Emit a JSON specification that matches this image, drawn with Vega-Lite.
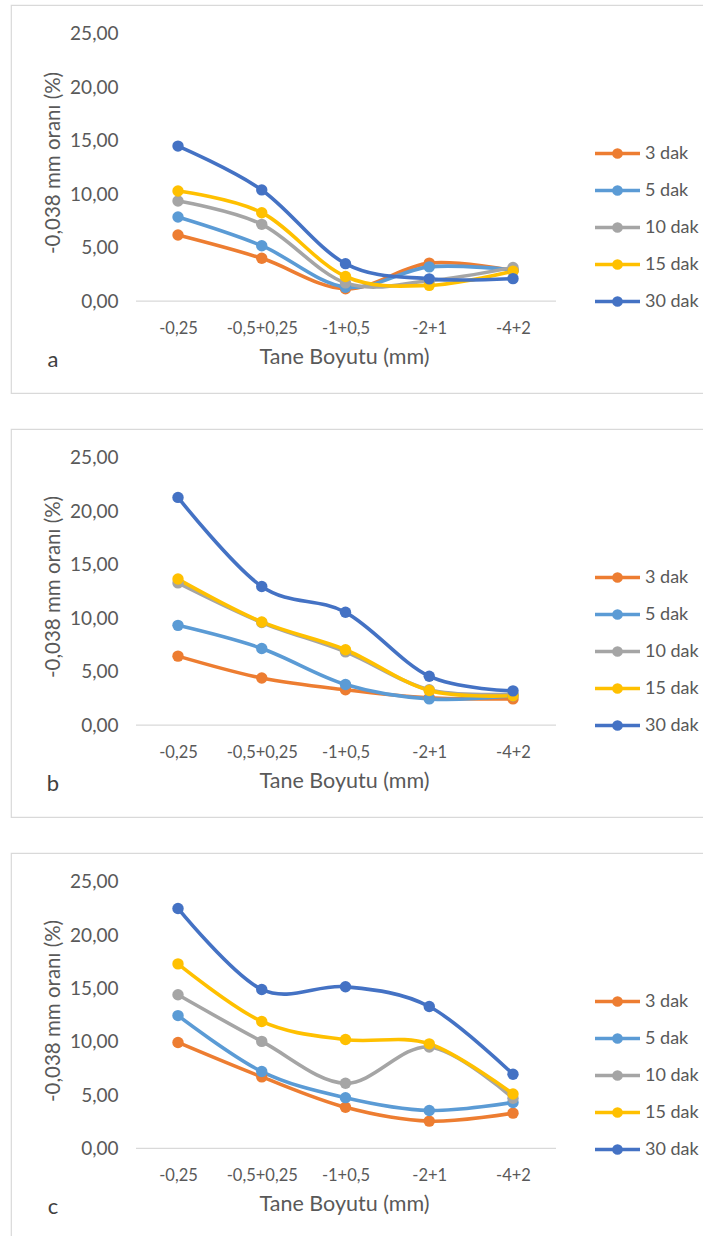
{
  "$schema": "https://vega.github.io/schema/vega-lite/v6.json",
  "padding": {"left": 10, "top": 4, "right": 0, "bottom": 0},
  "autosize": {"type": "pad"},
  "background": "white",
  "data": {"values": [
    {"panel": "a", "series": "3 dak", "size": "-0,25", "value": 6.18},
    {"panel": "a", "series": "3 dak", "size": "-0,5+0,25", "value": 4.0},
    {"panel": "a", "series": "3 dak", "size": "-1+0,5", "value": 1.15},
    {"panel": "a", "series": "3 dak", "size": "-2+1", "value": 3.55},
    {"panel": "a", "series": "3 dak", "size": "-4+2", "value": 2.85},
    {"panel": "a", "series": "5 dak", "size": "-0,25", "value": 7.87},
    {"panel": "a", "series": "5 dak", "size": "-0,5+0,25", "value": 5.18},
    {"panel": "a", "series": "5 dak", "size": "-1+0,5", "value": 1.3},
    {"panel": "a", "series": "5 dak", "size": "-2+1", "value": 3.2},
    {"panel": "a", "series": "5 dak", "size": "-4+2", "value": 2.9},
    {"panel": "a", "series": "10 dak", "size": "-0,25", "value": 9.36},
    {"panel": "a", "series": "10 dak", "size": "-0,5+0,25", "value": 7.18},
    {"panel": "a", "series": "10 dak", "size": "-1+0,5", "value": 1.7},
    {"panel": "a", "series": "10 dak", "size": "-2+1", "value": 1.9},
    {"panel": "a", "series": "10 dak", "size": "-4+2", "value": 3.15},
    {"panel": "a", "series": "15 dak", "size": "-0,25", "value": 10.3},
    {"panel": "a", "series": "15 dak", "size": "-0,5+0,25", "value": 8.27},
    {"panel": "a", "series": "15 dak", "size": "-1+0,5", "value": 2.3},
    {"panel": "a", "series": "15 dak", "size": "-2+1", "value": 1.47},
    {"panel": "a", "series": "15 dak", "size": "-4+2", "value": 2.8},
    {"panel": "a", "series": "30 dak", "size": "-0,25", "value": 14.5},
    {"panel": "a", "series": "30 dak", "size": "-0,5+0,25", "value": 10.4},
    {"panel": "a", "series": "30 dak", "size": "-1+0,5", "value": 3.5},
    {"panel": "a", "series": "30 dak", "size": "-2+1", "value": 2.08},
    {"panel": "a", "series": "30 dak", "size": "-4+2", "value": 2.1},

    {"panel": "b", "series": "3 dak", "size": "-0,25", "value": 6.45},
    {"panel": "b", "series": "3 dak", "size": "-0,5+0,25", "value": 4.4},
    {"panel": "b", "series": "3 dak", "size": "-1+0,5", "value": 3.3},
    {"panel": "b", "series": "3 dak", "size": "-2+1", "value": 2.55},
    {"panel": "b", "series": "3 dak", "size": "-4+2", "value": 2.45},
    {"panel": "b", "series": "5 dak", "size": "-0,25", "value": 9.33},
    {"panel": "b", "series": "5 dak", "size": "-0,5+0,25", "value": 7.17},
    {"panel": "b", "series": "5 dak", "size": "-1+0,5", "value": 3.8},
    {"panel": "b", "series": "5 dak", "size": "-2+1", "value": 2.45},
    {"panel": "b", "series": "5 dak", "size": "-4+2", "value": 2.75},
    {"panel": "b", "series": "10 dak", "size": "-0,25", "value": 13.3},
    {"panel": "b", "series": "10 dak", "size": "-0,5+0,25", "value": 9.6},
    {"panel": "b", "series": "10 dak", "size": "-1+0,5", "value": 6.85},
    {"panel": "b", "series": "10 dak", "size": "-2+1", "value": 3.3},
    {"panel": "b", "series": "10 dak", "size": "-4+2", "value": 2.9},
    {"panel": "b", "series": "15 dak", "size": "-0,25", "value": 13.66},
    {"panel": "b", "series": "15 dak", "size": "-0,5+0,25", "value": 9.65},
    {"panel": "b", "series": "15 dak", "size": "-1+0,5", "value": 7.05},
    {"panel": "b", "series": "15 dak", "size": "-2+1", "value": 3.23},
    {"panel": "b", "series": "15 dak", "size": "-4+2", "value": 2.75},
    {"panel": "b", "series": "30 dak", "size": "-0,25", "value": 21.3},
    {"panel": "b", "series": "30 dak", "size": "-0,5+0,25", "value": 12.97},
    {"panel": "b", "series": "30 dak", "size": "-1+0,5", "value": 10.55},
    {"panel": "b", "series": "30 dak", "size": "-2+1", "value": 4.57},
    {"panel": "b", "series": "30 dak", "size": "-4+2", "value": 3.2},

    {"panel": "c", "series": "3 dak", "size": "-0,25", "value": 9.93},
    {"panel": "c", "series": "3 dak", "size": "-0,5+0,25", "value": 6.7},
    {"panel": "c", "series": "3 dak", "size": "-1+0,5", "value": 3.85},
    {"panel": "c", "series": "3 dak", "size": "-2+1", "value": 2.55},
    {"panel": "c", "series": "3 dak", "size": "-4+2", "value": 3.3},
    {"panel": "c", "series": "5 dak", "size": "-0,25", "value": 12.45},
    {"panel": "c", "series": "5 dak", "size": "-0,5+0,25", "value": 7.2},
    {"panel": "c", "series": "5 dak", "size": "-1+0,5", "value": 4.75},
    {"panel": "c", "series": "5 dak", "size": "-2+1", "value": 3.55},
    {"panel": "c", "series": "5 dak", "size": "-4+2", "value": 4.3},
    {"panel": "c", "series": "10 dak", "size": "-0,25", "value": 14.4},
    {"panel": "c", "series": "10 dak", "size": "-0,5+0,25", "value": 10.03},
    {"panel": "c", "series": "10 dak", "size": "-1+0,5", "value": 6.1},
    {"panel": "c", "series": "10 dak", "size": "-2+1", "value": 9.5},
    {"panel": "c", "series": "10 dak", "size": "-4+2", "value": 4.7},
    {"panel": "c", "series": "15 dak", "size": "-0,25", "value": 17.3},
    {"panel": "c", "series": "15 dak", "size": "-0,5+0,25", "value": 11.9},
    {"panel": "c", "series": "15 dak", "size": "-1+0,5", "value": 10.2},
    {"panel": "c", "series": "15 dak", "size": "-2+1", "value": 9.8},
    {"panel": "c", "series": "15 dak", "size": "-4+2", "value": 5.1},
    {"panel": "c", "series": "30 dak", "size": "-0,25", "value": 22.5},
    {"panel": "c", "series": "30 dak", "size": "-0,5+0,25", "value": 14.9},
    {"panel": "c", "series": "30 dak", "size": "-1+0,5", "value": 15.15},
    {"panel": "c", "series": "30 dak", "size": "-2+1", "value": 13.3},
    {"panel": "c", "series": "30 dak", "size": "-4+2", "value": 6.95}
  ]},
  "spacing": 34,
  "resolve": {"scale": {"color": "independent"}, "legend": {"color": "independent"}},
  "vconcat": [
    {
      "width": 700, "height": 388,
      "transform": [{"filter": "datum.panel === 'a'"}],
      "layer": [
        {"data": {"values": [{"k": 1}]}, "mark": {"type": "rule", "color": "#d9d9d9", "strokeWidth": 1.3, "xOffset": -42, "x2Offset": 43},
         "encoding": {"x": {"datum": "-0,25", "type": "ordinal", "scale": {"type": "point", "domain": ["-0,25", "-0,5+0,25", "-1+0,5", "-2+1", "-4+2"], "range": [167, 502], "padding": 0}}, "x2": {"datum": "-4+2"}, "y": {"datum": 0, "type": "quantitative"}}},
        {"data": {"values": [{"letter": "a"}]}, "mark": {"type": "text", "dx": -125, "fontSize": 22, "color": "#404040", "baseline": "middle", "align": "center"},
         "encoding": {"x": {"datum": "-0,25", "type": "ordinal"}, "y": {"datum": -5.5, "type": "quantitative"}, "text": {"field": "letter"}}},
        {"mark": {"type": "line", "interpolate": "cardinal", "strokeWidth": 3.6},
         "encoding": {
           "x": {"field": "size", "type": "ordinal", "scale": {"type": "point", "domain": ["-0,25", "-0,5+0,25", "-1+0,5", "-2+1", "-4+2"], "range": [167, 502], "padding": 0},
                 "axis": {"offset": -92, "labelPadding": 27, "labelFontSize": 16.5, "labelAngle": 0, "labelAlign": "center", "title": "Tane Boyutu (mm)", "titleFontSize": 21.5, "titleX": 333, "titlePadding": 10}},
           "y": {"field": "value", "type": "quantitative", "scale": {"domain": [-8.6, 27.7], "nice": false, "zero": false},
                 "axis": {"values": [0, 5, 10, 15, 20, 25], "labelExpr": "replace(format(datum.value, '.2f'), '.', ',')", "offset": -125, "labelPadding": 18, "labelFontSize": 19, "title": "-0,038 mm oranı (%)", "titleFontSize": 20.5, "titleY": 157.5, "titlePadding": 6}},
           "color": {"field": "series", "type": "nominal", "scale": {"domain": ["3 dak", "5 dak", "10 dak", "15 dak", "30 dak"], "range": ["#ED7D31", "#5B9BD5", "#A5A5A5", "#FFC000", "#4472C4"]},
                     "legend": {"orient": "none", "legendX": 582, "legendY": 124}}
         }},
        {"mark": {"type": "point", "filled": true, "size": 130, "opacity": 1},
         "encoding": {
           "x": {"field": "size", "type": "ordinal"},
           "y": {"field": "value", "type": "quantitative"},
           "color": {"field": "series", "type": "nominal"}
         }}
      ]
    },
    {
      "width": 700, "height": 388,
      "transform": [{"filter": "datum.panel === 'b'"}],
      "layer": [
        {"data": {"values": [{"k": 1}]}, "mark": {"type": "rule", "color": "#d9d9d9", "strokeWidth": 1.3, "xOffset": -42, "x2Offset": 43},
         "encoding": {"x": {"datum": "-0,25", "type": "ordinal", "scale": {"type": "point", "domain": ["-0,25", "-0,5+0,25", "-1+0,5", "-2+1", "-4+2"], "range": [167, 502], "padding": 0}}, "x2": {"datum": "-4+2"}, "y": {"datum": 0, "type": "quantitative"}}},
        {"data": {"values": [{"letter": "b"}]}, "mark": {"type": "text", "dx": -125, "fontSize": 22, "color": "#404040", "baseline": "middle", "align": "center"},
         "encoding": {"x": {"datum": "-0,25", "type": "ordinal"}, "y": {"datum": -5.5, "type": "quantitative"}, "text": {"field": "letter"}}},
        {"mark": {"type": "line", "interpolate": "cardinal", "strokeWidth": 3.6},
         "encoding": {
           "x": {"field": "size", "type": "ordinal", "scale": {"type": "point", "domain": ["-0,25", "-0,5+0,25", "-1+0,5", "-2+1", "-4+2"], "range": [167, 502], "padding": 0},
                 "axis": {"offset": -92, "labelPadding": 27, "labelFontSize": 16.5, "labelAngle": 0, "labelAlign": "center", "title": "Tane Boyutu (mm)", "titleFontSize": 21.5, "titleX": 333, "titlePadding": 10}},
           "y": {"field": "value", "type": "quantitative", "scale": {"domain": [-8.6, 27.7], "nice": false, "zero": false},
                 "axis": {"values": [0, 5, 10, 15, 20, 25], "labelExpr": "replace(format(datum.value, '.2f'), '.', ',')", "offset": -125, "labelPadding": 18, "labelFontSize": 19, "title": "-0,038 mm oranı (%)", "titleFontSize": 20.5, "titleY": 157.5, "titlePadding": 6}},
           "color": {"field": "series", "type": "nominal", "scale": {"domain": ["3 dak", "5 dak", "10 dak", "15 dak", "30 dak"], "range": ["#ED7D31", "#5B9BD5", "#A5A5A5", "#FFC000", "#4472C4"]},
                     "legend": {"orient": "none", "legendX": 582, "legendY": 124}}
         }},
        {"mark": {"type": "point", "filled": true, "size": 130, "opacity": 1},
         "encoding": {
           "x": {"field": "size", "type": "ordinal"},
           "y": {"field": "value", "type": "quantitative"},
           "color": {"field": "series", "type": "nominal"}
         }}
      ]
    },
    {
      "width": 700, "height": 387,
      "transform": [{"filter": "datum.panel === 'c'"}],
      "layer": [
        {"data": {"values": [{"k": 1}]}, "mark": {"type": "rule", "color": "#d9d9d9", "strokeWidth": 1.3, "xOffset": -42, "x2Offset": 43},
         "encoding": {"x": {"datum": "-0,25", "type": "ordinal", "scale": {"type": "point", "domain": ["-0,25", "-0,5+0,25", "-1+0,5", "-2+1", "-4+2"], "range": [167, 502], "padding": 0}}, "x2": {"datum": "-4+2"}, "y": {"datum": 0, "type": "quantitative"}}},
        {"data": {"values": [{"letter": "c"}]}, "mark": {"type": "text", "dx": -125, "fontSize": 22, "color": "#404040", "baseline": "middle", "align": "center"},
         "encoding": {"x": {"datum": "-0,25", "type": "ordinal"}, "y": {"datum": -5.5, "type": "quantitative"}, "text": {"field": "letter"}}},
        {"mark": {"type": "line", "interpolate": "cardinal", "strokeWidth": 3.6},
         "encoding": {
           "x": {"field": "size", "type": "ordinal", "scale": {"type": "point", "domain": ["-0,25", "-0,5+0,25", "-1+0,5", "-2+1", "-4+2"], "range": [167, 502], "padding": 0},
                 "axis": {"offset": -92, "labelPadding": 27, "labelFontSize": 16.5, "labelAngle": 0, "labelAlign": "center", "title": "Tane Boyutu (mm)", "titleFontSize": 21.5, "titleX": 333, "titlePadding": 10}},
           "y": {"field": "value", "type": "quantitative", "scale": {"domain": [-8.6, 27.7], "nice": false, "zero": false},
                 "axis": {"values": [0, 5, 10, 15, 20, 25], "labelExpr": "replace(format(datum.value, '.2f'), '.', ',')", "offset": -125, "labelPadding": 18, "labelFontSize": 19, "title": "-0,038 mm oranı (%)", "titleFontSize": 20.5, "titleY": 157.5, "titlePadding": 6}},
           "color": {"field": "series", "type": "nominal", "scale": {"domain": ["3 dak", "5 dak", "10 dak", "15 dak", "30 dak"], "range": ["#ED7D31", "#5B9BD5", "#A5A5A5", "#FFC000", "#4472C4"]},
                     "legend": {"orient": "none", "legendX": 582, "legendY": 124}}
         }},
        {"mark": {"type": "point", "filled": true, "size": 130, "opacity": 1},
         "encoding": {
           "x": {"field": "size", "type": "ordinal"},
           "y": {"field": "value", "type": "quantitative"},
           "color": {"field": "series", "type": "nominal"}
         }}
      ]
    }
  ],
  "config": {
    "font": "Lato",
    "view": {"stroke": "#d9d9d9", "strokeWidth": 1.2},
    "axis": {"grid": false, "domain": false, "ticks": false, "labelFont": "Lato", "titleFont": "Lato", "labelColor": "#595959", "titleColor": "#595959", "titleFontWeight": "normal"},
    "legend": {
      "title": null,
      "symbolType": "M-1,0L1,0M0.16,0A0.16,0.16,0,1,1,-0.16,0A0.16,0.16,0,1,1,0.16,0M0.05,0A0.05,0.05,0,1,1,-0.05,0A0.05,0.05,0,1,1,0.05,0",
      "symbolSize": 2025,
      "symbolStrokeWidth": 3.5,
      "labelFont": "Lato",
      "labelFontSize": 18,
      "labelColor": "#595959",
      "labelOffset": 3,
      "rowPadding": 1
    }
  }
}
